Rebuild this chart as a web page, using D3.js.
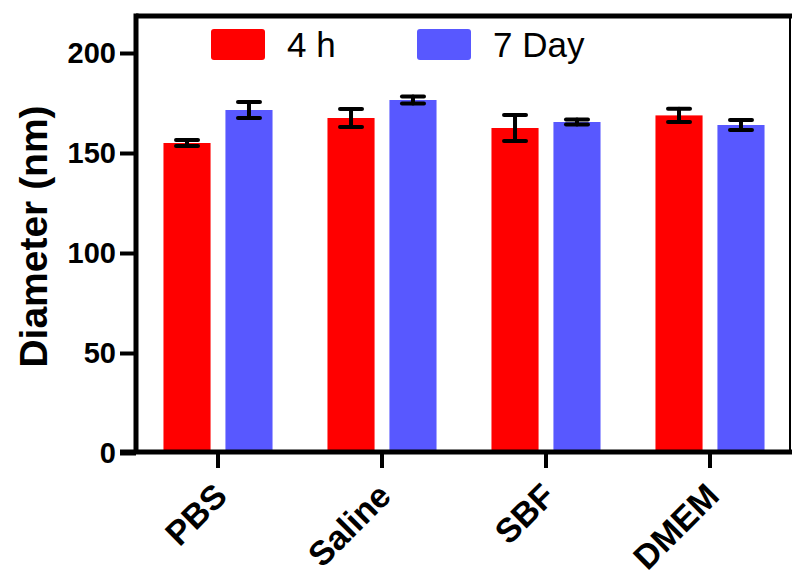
<!DOCTYPE html>
<html>
<head>
<meta charset="utf-8">
<script src="https://cdn.jsdelivr.net/npm/d3@7/dist/d3.min.js"></script>
<style>
  html, body { margin: 0; padding: 0; background: #fff; }
  svg { display: block; }
  text { font-family: "Liberation Sans", Arial, Helvetica, sans-serif; fill: #000; }
</style>
</head>
<body>
<svg id="chart" width="792" height="579"></svg>
<script>
// Particle diameter in different media, measured after 4 h and after 7 days
const categories = ["PBS", "Saline", "SBF", "DMEM"];
const seriesNames = ["4 h", "7 Day"];
const seriesColors = ["#ff0000", "#5858ff"];
const values4h = [155, 167.5, 162.5, 168.8];
const errors4h = [1.5, 4.5, 6.5, 3.3];
const values7d = [171.5, 176.5, 165.5, 164];
const errors7d = [4, 1.8, 1.2, 2.5];
const yTicks = [0, 50, 100, 150, 200];

const seriesValues = [values4h, values7d];
const seriesErrors = [errors4h, errors7d];

const svg = d3.select("#chart");

const plotLeft = 136, plotRight = 792, plotTop = 16, plotBottom = 453;

const x0 = d3.scaleBand()
  .domain(categories)
  .range([plotLeft, plotRight])
  .paddingInner(0.335)
  .paddingOuter(0.1675);

const x1 = d3.scaleBand()
  .domain(d3.range(seriesNames.length))
  .range([0, x0.bandwidth()])
  .paddingInner(0.24)
  .paddingOuter(0);

const y = d3.scaleLinear().domain([0, 218.5]).range([plotBottom, plotTop]);

// bars and error bars
categories.forEach((cat, i) => {
  const g = svg.append("g").attr("transform", `translate(${x0(cat)},0)`);
  seriesNames.forEach((s, k) => {
    const v = seriesValues[k][i];
    const e = seriesErrors[k][i];
    const bx = x1(k);
    const bw = x1.bandwidth();
    g.append("rect")
      .attr("x", bx)
      .attr("y", y(v))
      .attr("width", bw)
      .attr("height", y(0) - y(v))
      .attr("fill", seriesColors[k]);
    const cx = bx + bw / 2;
    const capHalf = 11;
    const eg = g.append("g")
      .attr("stroke", "#000")
      .attr("stroke-width", 4)
      .attr("stroke-linecap", "round");
    eg.append("line").attr("x1", cx).attr("x2", cx).attr("y1", y(v + e)).attr("y2", y(v - e));
    eg.append("line").attr("x1", cx - capHalf).attr("x2", cx + capHalf).attr("y1", y(v + e)).attr("y2", y(v + e));
    eg.append("line").attr("x1", cx - capHalf).attr("x2", cx + capHalf).attr("y1", y(v - e)).attr("y2", y(v - e));
  });
});

// frame: thick top, thin right
svg.append("line")
  .attr("x1", plotLeft).attr("x2", plotRight).attr("y1", plotTop).attr("y2", plotTop)
  .attr("stroke", "#000").attr("stroke-width", 5);
svg.append("line")
  .attr("x1", 790).attr("x2", 790).attr("y1", plotTop).attr("y2", plotBottom)
  .attr("stroke", "#000").attr("stroke-width", 2);

// y axis
const yAxis = svg.append("g")
  .attr("transform", `translate(${plotLeft},0)`)
  .call(d3.axisLeft(y).tickValues(yTicks).tickSize(16).tickPadding(4).tickSizeOuter(0));
yAxis.select(".domain").attr("stroke", "#000").attr("stroke-width", 5)
  .attr("d", `M0,${plotTop - 2.5}V${plotBottom}`);
yAxis.selectAll(".tick line").attr("stroke", "#000").attr("stroke-width", 4);
yAxis.selectAll(".tick text")
  .attr("font-size", 29).attr("font-weight", "bold")
  .attr("font-family", '"Liberation Sans", Arial, sans-serif')
  .attr("fill", "#000");

// x axis
const xAxis = svg.append("g")
  .attr("transform", `translate(0,${plotBottom - 1})`)
  .call(d3.axisBottom(x0).tickSize(16).tickSizeOuter(0));
xAxis.select(".domain").attr("stroke", "#000").attr("stroke-width", 5)
  .attr("d", `M${plotLeft - 16},0H${plotRight}`);
xAxis.selectAll(".tick line").attr("stroke", "#000").attr("stroke-width", 4);
xAxis.selectAll(".tick text")
  .attr("font-size", 34).attr("font-weight", "bold")
  .attr("font-family", '"Liberation Sans", Arial, sans-serif')
  .attr("fill", "#000")
  .attr("text-anchor", "end")
  .attr("y", 0).attr("dy", 0)
  .attr("transform", "translate(11,46) rotate(-45)");

// y title
svg.append("text")
  .attr("transform", `translate(47,${(plotTop + plotBottom) / 2 + 2}) rotate(-90)`)
  .attr("text-anchor", "middle")
  .attr("font-size", 39)
  .attr("font-weight", "bold")
  .text("Diameter (nm)");

// legend
const legendX = [211, 417];
seriesNames.forEach((s, k) => {
  svg.append("rect")
    .attr("x", legendX[k]).attr("y", 29)
    .attr("width", 54).attr("height", 31)
    .attr("rx", 3)
    .attr("fill", seriesColors[k]);
  svg.append("text")
    .attr("x", legendX[k] + 76).attr("y", 57)
    .attr("font-size", 35)
    .text(s);
});
</script>
</body>
</html>
